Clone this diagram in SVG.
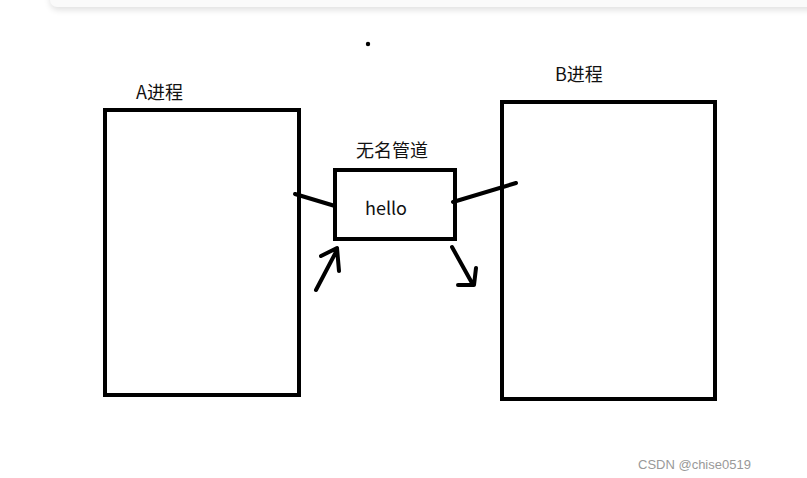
<svg xmlns="http://www.w3.org/2000/svg" width="807" height="478" viewBox="0 0 807 478">
<defs>
<style>
.box{fill:none;stroke:#000;stroke-width:4}
.ln{fill:none;stroke:#000;stroke-width:4;stroke-linecap:round;stroke-linejoin:round}
.lbl{font-family:"Microsoft YaHei","Noto Sans CJK SC",sans-serif;font-size:18px;fill:#111}
</style>
<filter id="sh" x="-5%" y="-100%" width="110%" height="400%"><feGaussianBlur stdDeviation="3"/></filter>
</defs>
<rect width="807" height="478" fill="#fff"/>
<rect x="50" y="-10" width="780" height="20" rx="8" fill="#000" opacity="0.12" filter="url(#sh)"/>
<rect x="50" y="-10" width="780" height="17" rx="7" fill="#fafafa"/>
<circle cx="368" cy="44" r="2.2" fill="#000"/>
<g id="nodeA"><rect class="box" x="105" y="110" width="194" height="285"/><text class="lbl" x="136" y="99">A进程</text></g>
<g id="nodeB"><rect class="box" x="502" y="102" width="213" height="297"/><text class="lbl" x="555" y="81">B进程</text></g>
<g id="pipe"><rect class="box" x="335" y="170" width="120" height="69"/><text class="lbl" x="356" y="157">无名管道</text><text class="lbl" x="365" y="215">hello</text></g>
<g id="connectors">
<path class="ln" d="M295,194 L335,206"/>
<path class="ln" d="M453,202 L516,183"/>
<path class="ln" d="M316,290 L337,250 M321,256 L337,248 L339,271"/>
<path class="ln" d="M452,247 L472,283 M458,285 L474,285 L476,268"/>
</g>
<text x="638" y="469" font-family="Liberation Sans, sans-serif" font-size="13" fill="#999">CSDN @chise0519</text>
</svg>
